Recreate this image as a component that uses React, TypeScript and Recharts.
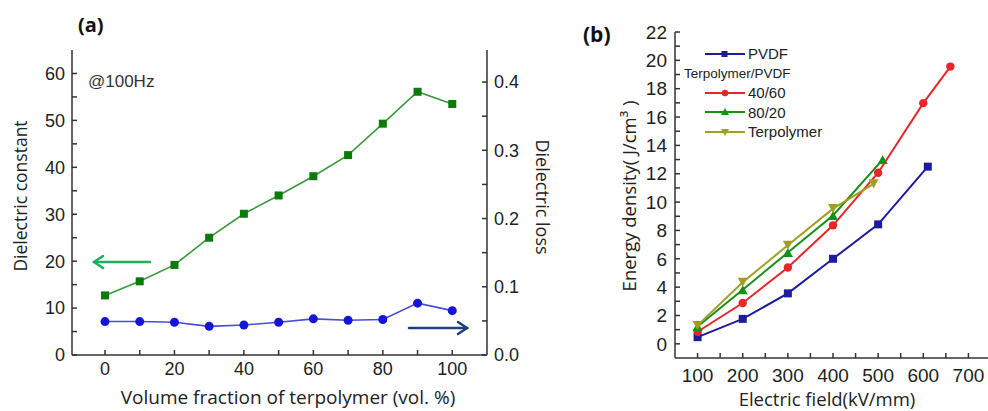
import React from 'react';
import { LineChart, Line, XAxis, YAxis } from 'recharts';

// (a) dielectric properties vs. terpolymer content
const volumeFraction = [0, 10, 20, 30, 40, 50, 60, 70, 80, 90, 100];
const dielectricConstant = [12.7, 15.7, 19.2, 25.0, 30.1, 34.0, 38.1, 42.6, 49.3, 56.1, 53.5];
const dielectricLoss = [0.049, 0.049, 0.048, 0.042, 0.044, 0.048, 0.053, 0.051, 0.052, 0.076, 0.065];

const fractionTicks = [0, 10, 20, 30, 40, 50, 60, 70, 80, 90, 100];
const constantTicks = [0, 5, 10, 15, 20, 25, 30, 35, 40, 45, 50, 55, 60];
const lossTicks = [0, 0.05, 0.1, 0.15, 0.2, 0.25, 0.3, 0.35, 0.4];

// (b) energy density vs. electric field
const pvdfField = [100, 200, 300, 400, 500, 610];
const pvdfEnergy = [0.47, 1.76, 3.56, 6.0, 8.43, 12.5];
const blend4060Field = [100, 200, 300, 400, 500, 600, 660];
const blend4060Energy = [0.85, 2.88, 5.39, 8.36, 12.07, 16.98, 19.56];
const blend8020Field = [100, 200, 300, 400, 510];
const blend8020Energy = [1.22, 3.82, 6.44, 9.06, 13.0];
const terpolymerField = [100, 200, 300, 400, 490];
const terpolymerEnergy = [1.3, 4.34, 6.96, 9.54, 11.29];

const fieldTicks = [100, 150, 200, 250, 300, 350, 400, 450, 500, 550, 600, 650, 700];
const energyTicks = [0, 1, 2, 3, 4, 5, 6, 7, 8, 9, 10, 11, 12, 13, 14, 15, 16, 17, 18, 19, 20, 21, 22];

const panelA = volumeFraction.map((v, i) => ({
  fraction: v,
  constant: dielectricConstant[i],
  loss: dielectricLoss[i],
}));

const toPoints = (xs: number[], ys: number[]) => xs.map((x, i) => ({ field: x, energy: ys[i] }));

const AXIS = '#333';
const TICK_FONT = 'Liberation Sans, Arial, sans-serif';
const LABEL_FONT = 'Open Sans, sans-serif';

const square = (color: string, size: number) => (props: any) => {
  const { cx, cy, index } = props;
  if (cx == null || cy == null) return <g key={index} />;
  return <rect key={index} x={cx - size / 2} y={cy - size / 2} width={size} height={size} fill={color} />;
};

const circle = (color: string, r: number) => (props: any) => {
  const { cx, cy, index } = props;
  if (cx == null || cy == null) return <g key={index} />;
  return <circle key={index} cx={cx} cy={cy} r={r} fill={color} />;
};

const triangle = (color: string, size: number, down: boolean) => (props: any) => {
  const { cx, cy, index } = props;
  if (cx == null || cy == null) return <g key={index} />;
  const h = size * 0.9;
  const pts = down
    ? `${cx - size / 2},${cy - h / 2} ${cx + size / 2},${cy - h / 2} ${cx},${cy + h / 2}`
    : `${cx - size / 2},${cy + h / 2} ${cx + size / 2},${cy + h / 2} ${cx},${cy - h / 2}`;
  return <polygon key={index} points={pts} fill={color} />;
};

const seriesB = [
  { name: 'PVDF', color: '#1c1c9c', data: toPoints(pvdfField, pvdfEnergy), dot: square('#1c1c9c', 8), mark: 'square' },
  { name: '40/60', color: '#e8262a', data: toPoints(blend4060Field, blend4060Energy), dot: circle('#e8262a', 4.2), mark: 'circle' },
  { name: '80/20', color: '#178f17', data: toPoints(blend8020Field, blend8020Energy), dot: triangle('#178f17', 10, false), mark: 'up' },
  { name: 'Terpolymer', color: '#a0a020', data: toPoints(terpolymerField, terpolymerEnergy), dot: triangle('#a0a020', 10, true), mark: 'down' },
];

const LegendMark = ({ color, mark }: { color: string; mark: string }) => (
  <svg width={40} height={12} style={{ display: 'block' }}>
    <line x1={0} y1={6} x2={40} y2={6} stroke={color} strokeWidth={2} />
    {mark === 'square' && <rect x={16.5} y={3} width={6} height={6} fill={color} />}
    {mark === 'circle' && <circle cx={20} cy={6} r={3.2} fill={color} />}
    {mark === 'up' && <polygon points="16,9 24,9 20,2" fill={color} />}
    {mark === 'down' && <polygon points="16,3 24,3 20,10" fill={color} />}
  </svg>
);

const LegendB = () => {
  const row = (s: any) => (
    <div key={s.name} style={{ display: 'flex', alignItems: 'center', height: 19.5 }}>
      <LegendMark color={s.color} mark={s.mark} />
      <span style={{ marginLeft: 3, fontSize: 15, fontFamily: TICK_FONT, color: '#222' }}>{s.name}</span>
    </div>
  );
  return (
    <div style={{ position: 'absolute', left: 125, top: 44 }}>
      {row(seriesB[0])}
      <div style={{ height: 19.5, marginLeft: -21, fontSize: 13.5, fontFamily: TICK_FONT, color: '#222', lineHeight: '19.5px', whiteSpace: 'nowrap' }}>
        Terpolymer/PVDF
      </div>
      {seriesB.slice(1).map(row)}
    </div>
  );
};

const Arrow = ({ x1, x2, y, color }: { x1: number; x2: number; y: number; color: string }) => {
  const dir = x2 > x1 ? 1 : -1;
  return (
    <g stroke={color} strokeWidth={2.5} fill="none" strokeLinecap="round">
      <line x1={x1} y1={y} x2={x2} y2={y} />
      <polyline points={`${x2 - dir * 9},${y - 6} ${x2},${y} ${x2 - dir * 9},${y + 6}`} />
    </g>
  );
};

export default function App() {
  return (
    <div style={{ position: 'absolute', left: 0, top: 0, width: 988, height: 411, overflow: 'hidden', background: '#fff' }}>
      {/* panel (a) */}
      <div style={{ position: 'absolute', left: 0, top: 0 }}>
        <LineChart width={560} height={411} data={panelA} margin={{ top: 50, right: 13, bottom: 0, left: 0 }}>
          <XAxis
            dataKey="fraction"
            type="number"
            domain={[-9.5, 110]}
            allowDataOverflow
            ticks={fractionTicks}
            interval={0}
            tickFormatter={(v) => (v % 20 === 0 ? String(v) : '')}
            height={56}
            tickSize={-5}
            tickMargin={12}
            stroke={AXIS}
            strokeWidth={1.5}
            tick={{ fill: '#222', fontSize: 18, fontFamily: TICK_FONT }}
          />
          <XAxis xAxisId="top" orientation="top" type="number" domain={[-9.5, 110]} height={0} tick={false} tickLine={false} stroke={AXIS} strokeWidth={1.5} />
          <YAxis
            yAxisId="left"
            type="number"
            domain={[0, 65]}
            allowDataOverflow
            ticks={constantTicks}
            interval={0}
            tickFormatter={(v) => (v % 10 === 0 ? String(v) : '')}
            width={72}
            tickSize={-5}
            tickMargin={12}
            stroke={AXIS}
            strokeWidth={1.5}
            tick={{ fill: '#222', fontSize: 18, fontFamily: TICK_FONT }}
          />
          <YAxis
            yAxisId="right"
            orientation="right"
            type="number"
            domain={[0, 0.447]}
            allowDataOverflow
            ticks={lossTicks}
            interval={0}
            tickFormatter={(v) => (Math.round(v * 100) % 10 === 0 ? v.toFixed(1) : '')}
            width={60}
            tickSize={-5}
            tickMargin={12}
            stroke={AXIS}
            strokeWidth={1.5}
            tick={{ fill: '#222', fontSize: 18, fontFamily: TICK_FONT }}
          />
          <Line yAxisId="left" dataKey="constant" stroke="#3a9a3a" strokeWidth={1.6} dot={square('#0b7a0b', 8)} isAnimationActive={false} />
          <Line yAxisId="right" dataKey="loss" stroke="#4a4ae0" strokeWidth={1.6} dot={circle('#1515d8', 4.5)} isAnimationActive={false} />
        </LineChart>
        <svg width={560} height={411} style={{ position: 'absolute', left: 0, top: 0, pointerEvents: 'none' }}>
          <text x={78} y={32} fontSize={20} fontWeight="bold" fontFamily={LABEL_FONT} fill="#111">(a)</text>
          <text x={88} y={87} fontSize={17} fontFamily={TICK_FONT} fill="#333">@100Hz</text>
          <Arrow x1={150} x2={94} y={262} color="#1fae5a" />
          <Arrow x1={409} x2={467} y={328} color="#1f3f7f" />
          <text x={20} y={196} fontSize={17.5} fontFamily={LABEL_FONT} fill="#222" textAnchor="middle" dominantBaseline="central" transform="rotate(-90 20 196)">Dielectric constant</text>
          <text x={543} y={197} fontSize={18} fontFamily={LABEL_FONT} fill="#222" textAnchor="middle" dominantBaseline="central" transform="rotate(90 543 197)">Dielectric loss</text>
          <text x={288} y={404} fontSize={19} fontFamily={LABEL_FONT} fill="#222" textAnchor="middle">Volume fraction of terpolymer (vol. %)</text>
        </svg>
      </div>

      {/* panel (b) */}
      <div style={{ position: 'absolute', left: 580, top: 0 }}>
        <LineChart width={416} height={411} margin={{ top: 32, right: 5, bottom: 0, left: 0 }}>
          <XAxis
            dataKey="field"
            type="number"
            domain={[50, 750]}
            allowDataOverflow
            ticks={fieldTicks}
            interval={0}
            tickFormatter={(v) => (v % 100 === 0 ? String(v) : '')}
            height={53}
            tickSize={-5}
            tickMargin={16}
            stroke={AXIS}
            strokeWidth={1.5}
            tick={{ fill: '#222', fontSize: 19, fontFamily: TICK_FONT }}
          />
          <XAxis xAxisId="top" orientation="top" type="number" domain={[50, 750]} height={0} tick={false} tickLine={false} stroke={AXIS} strokeWidth={1.5} />
          <YAxis
            type="number"
            domain={[-1, 22]}
            allowDataOverflow
            ticks={energyTicks}
            interval={0}
            tickFormatter={(v) => (v % 2 === 0 ? String(v) : '')}
            width={95}
            tickSize={-5}
            tickMargin={13}
            stroke={AXIS}
            strokeWidth={1.5}
            tick={{ fill: '#222', fontSize: 19, fontFamily: TICK_FONT }}
          />
          {seriesB.map((s) => (
            <Line
              key={s.name}
              data={s.data}
              dataKey="energy"
              name={s.name}
              stroke={s.color}
              strokeWidth={2}
              dot={s.dot}
              isAnimationActive={false}
            />
          ))}
        </LineChart>
        <LegendB />
        <svg width={416} height={411} style={{ position: 'absolute', left: 0, top: 0, pointerEvents: 'none' }}>
          <text x={3} y={42} fontSize={21} fontWeight="bold" fontFamily={LABEL_FONT} fill="#111">(b)</text>
          <text x={48} y={196} fontSize={18.5} fontFamily={LABEL_FONT} fill="#222" textAnchor="middle" dominantBaseline="central" transform="rotate(-90 48 196)">Energy density( J/cm³ )</text>
          <text x={247} y={406} fontSize={18.5} fontFamily={LABEL_FONT} fill="#222" textAnchor="middle">Electric field(kV/mm)</text>
        </svg>
      </div>
    </div>
  );
}
